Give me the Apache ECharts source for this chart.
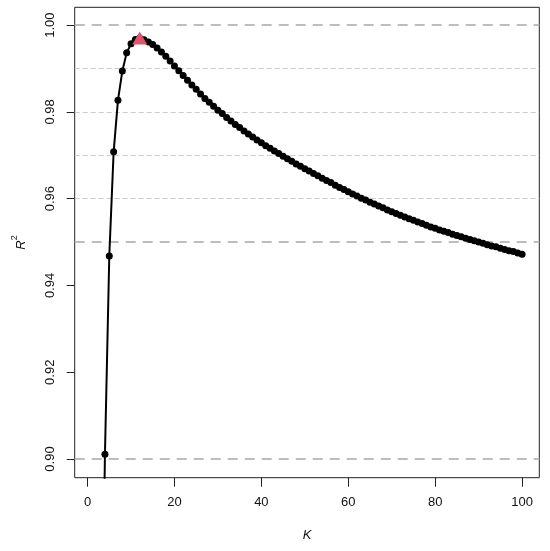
<!DOCTYPE html>
<html>
<head>
<meta charset="utf-8">
<script src="https://cdn.jsdelivr.net/npm/echarts@6/dist/echarts.min.js"></script>
<style>
html,body{margin:0;padding:0;background:#fff;}
#main{width:550px;height:551px;}
</style>
</head>
<body>
<div id="main"></div>
<script>
// Number of clusters K
var kValues = [3,4,5,6,7,8,9,10,11,12,13,14,15,16,17,18,19,20,
  21,22,23,24,25,26,27,28,29,30,31,32,33,34,35,36,37,38,39,40,
  41,42,43,44,45,46,47,48,49,50,51,52,53,54,55,56,57,58,59,60,
  61,62,63,64,65,66,67,68,69,70,71,72,73,74,75,76,77,78,79,80,
  81,82,83,84,85,86,87,88,89,90,91,92,93,94,95,96,97,98,99,100];
// R^2 for each K
var r2Values = [0.830,0.9011,0.9468,0.9708,0.9827,0.9894,0.9936,0.9957,0.9967,0.9970,0.9966,0.9961,0.9955,0.9947,0.9938,0.9928,0.9917,0.9906,
  0.9895,0.9884,0.9873,0.9862,0.9852,0.9841,0.9831,0.9822,0.9813,0.9804,0.9796,0.9787,0.9779,0.9771,0.9764,0.9756,0.9749,0.9742,0.9735,0.9729,
  0.9722,0.9716,0.9710,0.9704,0.9698,0.9692,0.9686,0.9680,0.9675,0.9669,0.9664,0.9658,0.9653,0.9647,0.9642,0.9637,0.9631,0.9626,0.9621,0.9616,
  0.9611,0.9606,0.9601,0.9597,0.9592,0.9588,0.9583,0.9579,0.9574,0.9570,0.9566,0.9562,0.9558,0.9554,0.9550,0.9546,0.9543,0.9539,0.9535,0.9532,
  0.9528,0.9525,0.9522,0.9518,0.9515,0.9512,0.9509,0.9506,0.9503,0.9500,0.9497,0.9494,0.9491,0.9489,0.9486,0.9483,0.9480,0.9478,0.9475,0.9472];
var xTicks = [0,20,40,60,80,100];
var yTicks = [0.90,0.92,0.94,0.96,0.98,1.00];
var refLinesMajor = [0.90,0.95,1.00];
var refLinesMinor = [0.96,0.97,0.98,0.99];

var lineData = kValues.map(function(k,i){return [k, r2Values[i]];});
var best = 0;
for (var i=1;i<r2Values.length;i++){ if (r2Values[i] > r2Values[best]) best = i; }
var bestPoint = [[kValues[best], r2Values[best]]];

var font = '"Liberation Sans", Arial, sans-serif';
var markData = [];
refLinesMajor.forEach(function(v){
  markData.push({yAxis:v, lineStyle:{color:'#bdbdbd', width:2, type:[10,7]}});
});
refLinesMinor.forEach(function(v){
  markData.push({yAxis:v, lineStyle:{color:'#cccccc', width:1.2, type:[5,3]}});
});

var chart = echarts.init(document.getElementById('main'), null, {renderer:'canvas'});
chart.setOption({
  animation:false,
  backgroundColor:'#ffffff',
  grid:{left:74.7, right:10.7, top:7.3, bottom:73.3, show:true, borderColor:'#222', borderWidth:1, backgroundColor:'transparent'},
  xAxis:{
    type:'value', min:-2.96, max:103.96,
    name:'K', nameLocation:'middle', nameGap:51,
    nameTextStyle:{fontFamily:font, fontSize:13, fontStyle:'italic', color:'#111'},
    axisLine:{show:false, onZero:false},
    axisTick:{show:true, inside:false, length:9, customValues:xTicks, lineStyle:{color:'#222', width:1}},
    axisLabel:{customValues:xTicks, margin:18, fontFamily:font, fontSize:13, color:'#111'},
    splitLine:{show:false}
  },
  yAxis:{
    type:'value', min:0.8957, max:1.0041,
    name:'{i|R}{s|2}', nameLocation:'middle', nameGap:47, nameRotate:90,
    nameTextStyle:{fontFamily:font, color:'#111', rich:{
      i:{fontFamily:font, fontSize:13, fontStyle:'italic', color:'#111', verticalAlign:'bottom', lineHeight:18},
      s:{fontFamily:font, fontSize:9, color:'#111', verticalAlign:'top', lineHeight:18}
    }},
    axisLine:{show:false, onZero:false},
    axisTick:{show:true, inside:false, length:8, customValues:yTicks, lineStyle:{color:'#222', width:1}},
    axisLabel:{customValues:yTicks, rotate:90, margin:18, fontFamily:font, fontSize:13, color:'#111',
      formatter:function(v){return v.toFixed(2);}},
    splitLine:{show:false}
  },
  series:[
    {
      type:'line', data:lineData, clip:true, silent:true,
      symbol:'circle', symbolSize:7, showSymbol:true,
      lineStyle:{color:'#000', width:2},
      itemStyle:{color:'#000'},
      z:3,
      markLine:{silent:true, symbol:'none', label:{show:false}, data:markData, z:1, animation:false}
    },
    {
      type:'scatter', data:bestPoint, symbol:'triangle', symbolSize:[15,13],
      itemStyle:{color:'#DF536B', opacity:1}, z:10, silent:true
    }
  ]
});
</script>
</body>
</html>
